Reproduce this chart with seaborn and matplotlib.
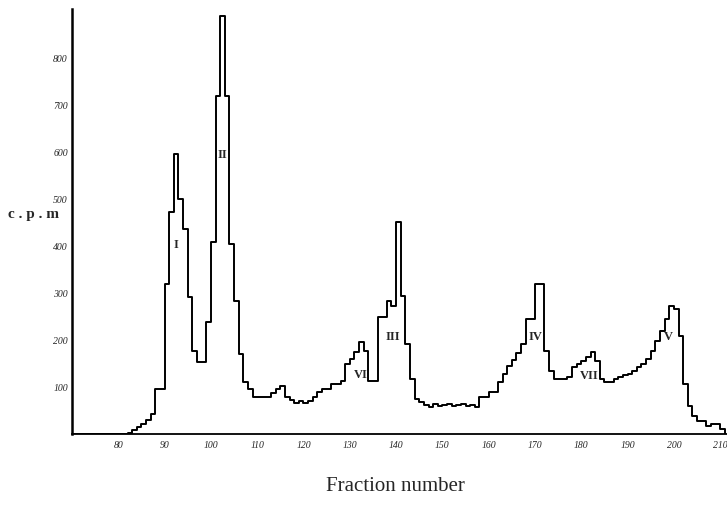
import matplotlib
matplotlib.use("Agg")
import matplotlib.pyplot as plt
import numpy as np
import pandas as pd
import seaborn as sns

sns.set_style("white")
plt.rcParams["font.family"] = ["Liberation Serif", "DejaVu Serif"]

# --- data (one value per fraction, c.p.m.) ---
fraccion_inicio = 70
cpm = [
    0, 0, 0, 0, 0, 0, 0, 0, 0, 0, 0, 0,            # 70-81
    3, 8, 15, 21, 30, 42, 96, 96,                  # 82-89
    319, 472, 596, 500, 436, 291, 177, 153, 153, 238,   # 90-99
    408, 719, 889, 719, 404, 283, 170, 110, 96, 79,     # 100-109
    79, 79, 79, 87, 96, 102, 79, 72, 66, 70,            # 110-119
    66, 70, 79, 89, 96, 96, 106, 106, 113, 149,         # 120-129
    160, 174, 196, 177, 113, 113, 249, 249, 283, 272,   # 130-139
    451, 294, 191, 117, 74, 68, 62, 58, 64, 60,         # 140-149
    62, 64, 60, 62, 64, 60, 62, 58, 79, 79,             # 150-159
    89, 89, 110, 128, 145, 158, 172, 191, 245, 245,     # 160-169
    319, 319, 177, 134, 117, 117, 117, 121, 143, 149,   # 170-179
    155, 164, 174, 155, 117, 110, 110, 117, 121, 125,   # 180-189
    128, 134, 143, 149, 160, 177, 198, 219, 245, 272,   # 190-199
    266, 208, 106, 60, 38, 28, 28, 17, 21, 21,          # 200-209
    10, 0,                                              # 210-211
]
fracciones = list(range(fraccion_inicio, fraccion_inicio + len(cpm)))

x_ticks = [80, 90, 100, 110, 120, 130, 140, 150, 160, 170, 180, 190, 200, 210]
y_ticks = [100, 200, 300, 400, 500, 600, 700, 800]

picos = ["I", "II", "III", "IV", "V", "VI", "VII"]
picos_x = [92.5, 102.4, 139.3, 170.2, 198.7, 132.4, 181.7]
picos_y = [404, 596, 208, 208, 208, 128, 126]

df = pd.DataFrame({"fraccion": fracciones, "cpm": cpm})

fig = plt.figure(figsize=(7.27, 5.06), dpi=100)
ax = fig.add_axes([72 / 727, 71 / 506, 655 / 727, 425 / 506])

sns.lineplot(data=df, x="fraccion", y="cpm", drawstyle="steps-post",
             color="black", lw=1.4, ax=ax)

ax.set_xlim(70, 211.47)
ax.set_ylim(0, 904)
ax.set_xticks(x_ticks)
ax.set_xticklabels([str(t) for t in x_ticks], fontsize=7, style="italic")
ax.set_yticks(y_ticks)
ax.set_yticklabels([str(t) for t in y_ticks], fontsize=7, style="italic")
ax.tick_params(axis="both", length=0)
ax.tick_params(axis="x", pad=4)
ax.tick_params(axis="y", pad=3)
ax.set_xlabel("")
ax.set_ylabel("")
ax.grid(False)

sns.despine(ax=ax, top=True, right=True)
ax.spines["left"].set_linewidth(1.8)
ax.spines["bottom"].set_linewidth(1.3)
ax.spines["left"].set_color("black")
ax.spines["bottom"].set_color("black")

for nombre, px, py in zip(picos, picos_x, picos_y):
    ax.text(px, py, nombre, fontsize=9, fontweight="bold", ha="center", va="center")

fig.text(8 / 727, 1 - 215 / 506, "c . p . m", fontsize=11, fontweight="bold",
         ha="left", va="center")
fig.text(395 / 727, 1 - 487 / 506, "Fraction number", fontsize=15,
         ha="center", va="center")

plt.savefig("out.png", dpi=100)
plt.close()
